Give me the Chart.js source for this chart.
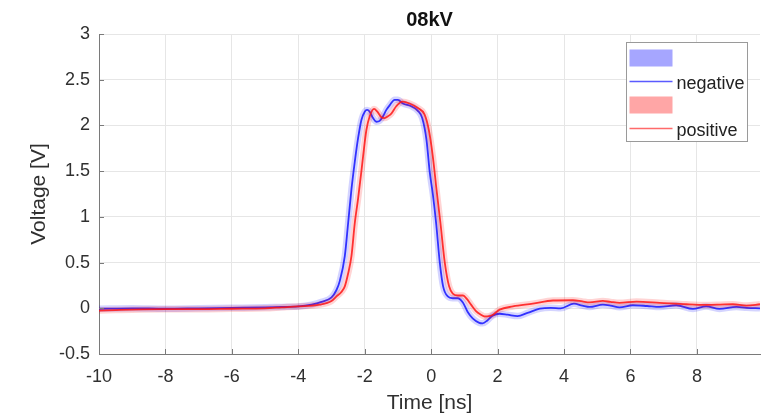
<!DOCTYPE html>
<html>
<head>
<meta charset="utf-8">
<script src="https://cdn.jsdelivr.net/npm/chart.js@4.4.1/dist/chart.umd.min.js"></script>
<style>
  html, body { margin: 0; padding: 0; background: #fff; }
  #wrap { width: 771px; height: 418px; }
</style>
</head>
<body>
<div id="wrap"><canvas id="pulseChart" width="771" height="418"></canvas></div>
<script>
// values: time in ns, voltage in V
const negTime = [-10, -9, -8, -7, -6, -5, -4.5, -4, -3.6, -3.3, -3.0, -2.85, -2.75, -2.6, -2.5, -2.4, -2.3, -2.2, -2.1, -2.0, -1.93, -1.85, -1.75, -1.65, -1.55, -1.45, -1.35, -1.25, -1.1, -1.0, -0.85, -0.6, -0.4, -0.27, -0.14, -0.04, 0.05, 0.15, 0.26, 0.36, 0.5, 0.65, 0.8, 0.96, 1.1, 1.25, 1.45, 1.55, 1.7, 1.85, 2.06, 2.3, 2.6, 2.9, 3.27, 3.6, 3.9, 4.3, 4.55, 4.77, 5.17, 5.4, 5.67, 6.07, 6.5, 6.88, 7.38, 7.88, 8.28, 8.68, 9.19, 9.5, 9.9];
const negVolt = [-0.005, 0.0, -0.005, 0.0, 0.005, 0.01, 0.015, 0.02, 0.04, 0.07, 0.12, 0.2, 0.3, 0.57, 0.93, 1.3, 1.6, 1.86, 2.06, 2.15, 2.17, 2.15, 2.08, 2.04, 2.05, 2.1, 2.17, 2.22, 2.28, 2.28, 2.24, 2.21, 2.16, 2.08, 1.84, 1.48, 1.25, 0.93, 0.5, 0.24, 0.13, 0.11, 0.11, 0.06, -0.04, -0.11, -0.16, -0.165, -0.13, -0.08, -0.06, -0.07, -0.085, -0.05, -0.005, 0.005, 0.0, 0.05, 0.03, 0.015, 0.04, 0.03, 0.01, 0.033, 0.025, 0.015, 0.033, -0.007, 0.02, -0.007, 0.015, 0.005, 0.0];

const posTime = [-10, -9.5, -9, -8, -7, -6, -5, -4.5, -4, -3.36, -3.0, -2.85, -2.7, -2.6, -2.5, -2.4, -2.3, -2.2, -2.1, -2.05, -1.95, -1.85, -1.72, -1.62, -1.5, -1.4, -1.3, -1.2, -1.05, -0.87, -0.65, -0.4, -0.2, -0.07, 0.05, 0.16, 0.28, 0.41, 0.54, 0.65, 0.8, 0.96, 1.08, 1.2, 1.35, 1.5, 1.61, 1.75, 1.86, 2.06, 2.46, 3.06, 3.67, 4.27, 4.55, 4.77, 5.17, 5.4, 5.67, 6.18, 6.88, 7.68, 8.28, 8.7, 9.08, 9.49, 9.9];
const posVolt = [-0.025, -0.02, -0.015, -0.01, -0.01, -0.005, 0.0, 0.01, 0.02, 0.04, 0.08, 0.13, 0.18, 0.24, 0.38, 0.57, 0.93, 1.2, 1.5, 1.66, 1.95, 2.1, 2.18, 2.15, 2.09, 2.08, 2.1, 2.13, 2.21, 2.26, 2.24, 2.19, 2.12, 1.95, 1.66, 1.3, 0.93, 0.5, 0.24, 0.16, 0.14, 0.14, 0.1, 0.04, -0.03, -0.07, -0.09, -0.085, -0.07, -0.015, 0.02, 0.05, 0.085, 0.088, 0.075, 0.065, 0.08, 0.07, 0.06, 0.073, 0.06, 0.044, 0.037, 0.04, 0.044, 0.03, 0.044];

const xTicks = [-10, -8, -6, -4, -2, 0, 2, 4, 6, 8];
const yTicks = [-0.5, 0, 0.5, 1, 1.5, 2, 2.5, 3];
const seriesNames = ["negative", "positive"];
const chartTitle = "08kV";

const FONT = '"Liberation Sans", Arial, Helvetica, sans-serif';
const AXIS_COLOR = "#7a7a7a";
const TEXT_COLOR = "#303030";

function toPoints(xs, ys) {
  return xs.map((t, i) => ({ x: t, y: ys[i] }));
}

// title, inward tick marks and the MATLAB style legend box
const extras = {
  id: "extras",
  afterDatasetsDraw(chart) {
    const ctx = chart.ctx;
    const a = chart.chartArea;
    const xs = chart.scales.x;
    const ys = chart.scales.y;

    ctx.save();
    ctx.strokeStyle = AXIS_COLOR;
    ctx.lineWidth = 1;
    ctx.beginPath();
    xTicks.forEach((t) => {
      const px = Math.round(xs.getPixelForValue(t)) + 0.5;
      ctx.moveTo(px, a.bottom);
      ctx.lineTo(px, a.bottom - 5);
    });
    yTicks.forEach((v) => {
      const py = Math.round(ys.getPixelForValue(v)) + 0.5;
      ctx.moveTo(a.left, py);
      ctx.lineTo(a.left + 5, py);
    });
    ctx.stroke();

    // title
    ctx.fillStyle = "#111";
    ctx.font = "bold 20px " + FONT;
    ctx.textAlign = "center";
    ctx.textBaseline = "middle";
    ctx.fillText(chartTitle, (a.left + a.right) / 2, 20);

    // legend
    const x0 = a.right - 133.5;
    const y0 = a.top + 8.5;
    ctx.fillStyle = "#fff";
    ctx.fillRect(x0, y0, 121, 99);
    ctx.strokeStyle = "#9a9a9a";
    ctx.lineWidth = 1;
    ctx.strokeRect(x0, y0, 121, 99);

    const patchCols = ["#a6a6ff", "#ffa6a6"];
    const lineCols = ["#5a5aff", "#ff6a6a"];
    ctx.font = "18px " + FONT;
    ctx.textAlign = "left";
    seriesNames.forEach((name, i) => {
      const ry = y0 + i * 47;
      ctx.fillStyle = patchCols[i];
      ctx.fillRect(x0 + 3, ry + 7, 43, 17);
      ctx.strokeStyle = lineCols[i];
      ctx.lineWidth = 1.5;
      ctx.beginPath();
      ctx.moveTo(x0 + 3, ry + 39);
      ctx.lineTo(x0 + 46, ry + 39);
      ctx.stroke();
      ctx.fillStyle = "#222";
      ctx.fillText(name, x0 + 50, ry + 42);
    });
    ctx.restore();
  }
};

const ctx = document.getElementById("pulseChart").getContext("2d");
const chart = new Chart(ctx, {
  type: "line",
  data: {
    datasets: [
      {
        label: seriesNames[1],
        data: toPoints(posTime, posVolt),
        borderColor: "rgba(255,20,20,0.85)",
        borderWidth: 1.8,
        order: 0,
      },
      {
        label: seriesNames[1] + " band",
        data: toPoints(posTime, posVolt),
        borderColor: "rgba(255,0,0,0.17)",
        borderWidth: 6.5,
        order: 1,
      },
      {
        label: seriesNames[0],
        data: toPoints(negTime, negVolt),
        borderColor: "rgba(20,20,255,0.85)",
        borderWidth: 1.8,
        order: 2,
      },
      {
        label: seriesNames[0] + " band",
        data: toPoints(negTime, negVolt),
        borderColor: "rgba(0,0,255,0.17)",
        borderWidth: 6.5,
        order: 3,
      },
    ],
  },
  options: {
    responsive: false,
    animation: false,
    devicePixelRatio: 1,
    events: [],
    layout: { padding: { top: 34, right: 11, left: 0, bottom: 0 } },
    elements: {
      point: { radius: 0 },
      line: { cubicInterpolationMode: "monotone", fill: false },
    },
    plugins: {
      legend: { display: false },
      title: { display: false },
      tooltip: { enabled: false },
    },
    scales: {
      x: {
        type: "linear",
        min: -10,
        max: 9.9,
        afterBuildTicks: (s) => {
          s.ticks = xTicks.map((v) => ({ value: v }));
        },
        afterFit: (s) => {
          s.height = 64;
        },
        grid: { color: "#e6e6e6", drawTicks: false },
        border: { display: true, color: AXIS_COLOR },
        ticks: {
          padding: 12,
          color: TEXT_COLOR,
          font: { family: FONT, size: 18 },
          callback: (v) => String(v),
        },
        title: {
          display: true,
          text: "Time [ns]",
          color: TEXT_COLOR,
          font: { family: FONT, size: 21 },
          padding: { top: 0, bottom: 2 },
        },
      },
      y: {
        type: "linear",
        min: -0.5,
        max: 3,
        afterBuildTicks: (s) => {
          s.ticks = yTicks.map((v) => ({ value: v }));
        },
        afterFit: (s) => {
          s.width = 99;
        },
        grid: { color: "#e6e6e6", drawTicks: false },
        border: { display: true, color: AXIS_COLOR },
        ticks: {
          padding: 9,
          color: TEXT_COLOR,
          font: { family: FONT, size: 18 },
          callback: (v) => String(v),
        },
        title: {
          display: true,
          text: "Voltage [V]",
          color: TEXT_COLOR,
          font: { family: FONT, size: 21 },
          padding: { top: 27, bottom: 0 },
        },
      },
    },
  },
  plugins: [extras],
});
</script>
</body>
</html>
